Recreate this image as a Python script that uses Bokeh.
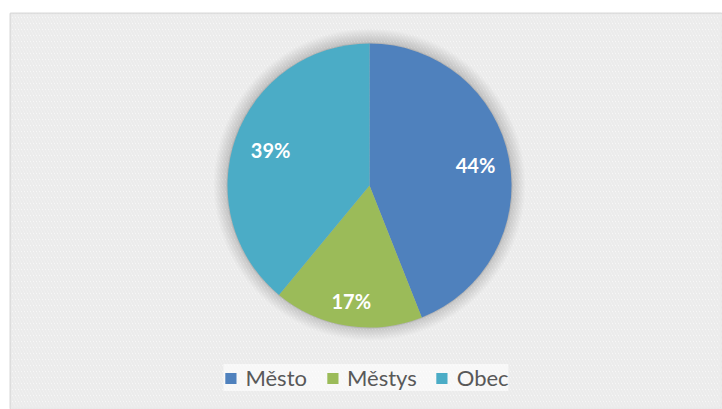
from math import pi, sin, cos
from bokeh.plotting import figure
from bokeh.models import ColumnDataSource, BoxAnnotation, Legend, LegendItem, Range1d
from bokeh.core.properties import value
from bokeh.embed import file_html
from bokeh.resources import INLINE

categories = ["Město", "Městys", "Obec"]
values = [44, 17, 39]
labels = ["44%", "17%", "39%"]
colors = ["#4f81bd", "#9bbb59", "#4bacc6"]
label_radius = [0.76, 0.82, 0.74]

W, H = 722, 409
p = figure(width=W, height=H, output_backend="svg", toolbar_location=None,
           min_border_left=10, min_border_top=13, min_border_right=0, min_border_bottom=0,
           x_range=Range1d(0, 712), y_range=Range1d(0, 396))
p.axis.visible = False
p.grid.visible = False
p.background_fill_color = "white"
p.border_fill_color = "white"
p.outline_line_color = "#d9d9d9"
p.outline_line_width = 2

bg = BoxAnnotation(fill_color=None, line_color=None, hatch_pattern="left_diagonal_line",
                   hatch_color="#ebebeb", hatch_scale=6, hatch_weight=2.5, level="underlay")
p.add_layout(bg)

cx, cy, R = 359, 224, 142
total = sum(values)
starts, ends, lx, ly = [], [], [], []
acc = 0.0
for v, lr in zip(values, label_radius):
    a0 = pi / 2 - acc / total * 2 * pi
    acc += v
    a1 = pi / 2 - acc / total * 2 * pi
    starts.append(a0)
    ends.append(a1)
    mid = (a0 + a1) / 2
    lx.append(cx + lr * R * cos(mid))
    ly.append(cy + lr * R * sin(mid))

# soft shadow
for k in range(1, 15):
    p.circle(x=[cx], y=[cy + 1], radius=R + k, radius_units="screen",
             fill_color="#000000", fill_alpha=0.012, line_color=None)
p.circle(x=[cx], y=[cy], radius=R + 1, radius_units="screen",
         fill_color="#888888", fill_alpha=0.25, line_color=None)

src = ColumnDataSource(dict(cat=categories, val=values, start=starts, end=ends,
                            color=colors, lx=lx, ly=ly, lab=labels))
w = p.wedge(x=cx, y=cy, radius=R, radius_units="screen", start_angle="end", end_angle="start",
            fill_color="color", line_color=None, source=src)

p.text(x="lx", y="ly", text="lab", source=src, text_color="white",
       text_font=value("Lato"), text_font_style="bold", text_font_size="20px",
       text_align="center", text_baseline="middle")

legend = Legend(items=[LegendItem(label=c, renderers=[w], index=i) for i, c in enumerate(categories)],
                location="bottom_center", orientation="horizontal")
legend.label_text_font = "Lato"
legend.label_text_font_size = "22px"
legend.label_text_color = "#595959"
legend.glyph_width = 14
legend.glyph_height = 14
legend.spacing = 18
legend.label_standoff = 8
legend.padding = 8
legend.margin = 18
legend.border_line_color = None
legend.background_fill_color = "white"
legend.background_fill_alpha = 0.6
p.add_layout(legend)

open("out.html", "w").write(file_html(p, INLINE))
